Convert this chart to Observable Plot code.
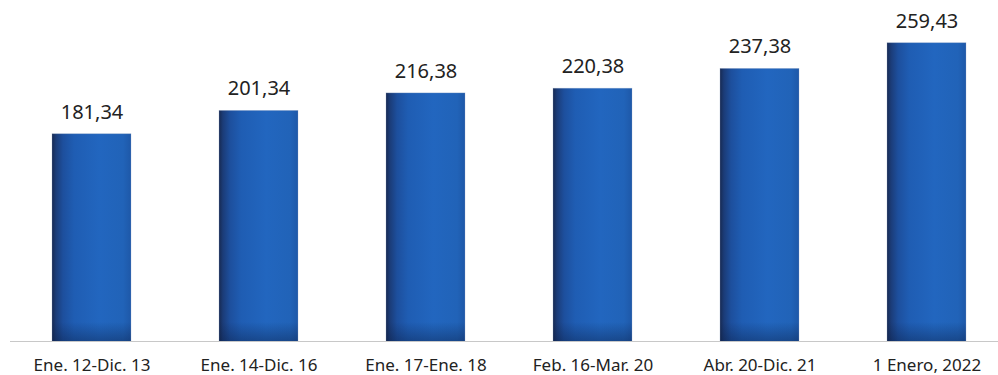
<!DOCTYPE html>
<html>
<head>
<meta charset="utf-8">
<script src="https://cdn.jsdelivr.net/npm/d3@7"></script>
<script src="https://cdn.jsdelivr.net/npm/@observablehq/plot@0.6"></script>
<style>
  html, body { margin: 0; padding: 0; background: #fff; }
  #chart svg { display: block; }
</style>
</head>
<body>
<div id="chart"></div>
<script>
const categories = ["Ene. 12-Dic. 13", "Ene. 14-Dic. 16", "Ene. 17-Ene. 18", "Feb. 16-Mar. 20", "Abr. 20-Dic. 21", "1 Enero, 2022"];
const values = [181.34, 201.34, 216.38, 220.38, 237.38, 259.43];

const data = categories.map((c, i) => ({cat: c, value: values[i]}));
const fmt = v => v.toFixed(2).replace(".", ",");

const defs = () => {
  const d = d3.create("svg:defs");
  const g = d.append("linearGradient").attr("id", "barGrad")
    .attr("x1", "0").attr("x2", "1").attr("y1", "0").attr("y2", "0");
  [["0%", "#172a52"], ["5%", "#1b3c78"], ["14%", "#1d4f9d"], ["28%", "#1f5db3"],
   ["60%", "#2266bf"], ["90%", "#2163b8"], ["100%", "#1e58a8"]]
    .forEach(([o, c]) => g.append("stop").attr("offset", o).attr("stop-color", c));
  const s = d.append("linearGradient").attr("id", "shadeGrad")
    .attr("gradientUnits", "userSpaceOnUse")
    .attr("x1", 0).attr("x2", 0).attr("y1", 322).attr("y2", 341);
  s.append("stop").attr("offset", "0%").attr("stop-color", "#0a1e46").attr("stop-opacity", 0);
  s.append("stop").attr("offset", "100%").attr("stop-color", "#0a1e46").attr("stop-opacity", 0.4);
  return d.node();
};

const plot = Plot.plot({
  width: 998,
  height: 375,
  marginTop: 10,
  marginBottom: 34,
  marginLeft: 10,
  marginRight: 0,
  style: {fontFamily: "'Noto Sans', sans-serif", background: "#fff"},
  x: {domain: categories, range: [10, 1009], paddingInner: 0.524, paddingOuter: 0.238, label: null},
  y: {domain: [3.5, 287.5], axis: null},
  marks: [
    defs,
    Plot.ruleY([3.5], {stroke: "#c8c8c8", strokeWidth: 1.2}),
    Plot.barY(data, {x: "cat", y: "value", fill: "url(#barGrad)", clip: true}),
    Plot.barY(data, {x: "cat", y: "value", fill: "url(#shadeGrad)", clip: true}),
    Plot.barY(data, {x: "cat", y: "value", fill: "none", stroke: "#8fa3c4", strokeOpacity: 0.35, strokeWidth: 0.8, clip: true}),
    Plot.text(data, {x: "cat", y: "value", text: d => fmt(d.value), dy: -22, fontSize: 20, fill: "#222"}),
    Plot.axisX({tickSize: 0, tickPadding: 17, fontSize: 17, color: "#222", label: null})
  ]
});
document.getElementById("chart").append(plot);
</script>
</body>
</html>
